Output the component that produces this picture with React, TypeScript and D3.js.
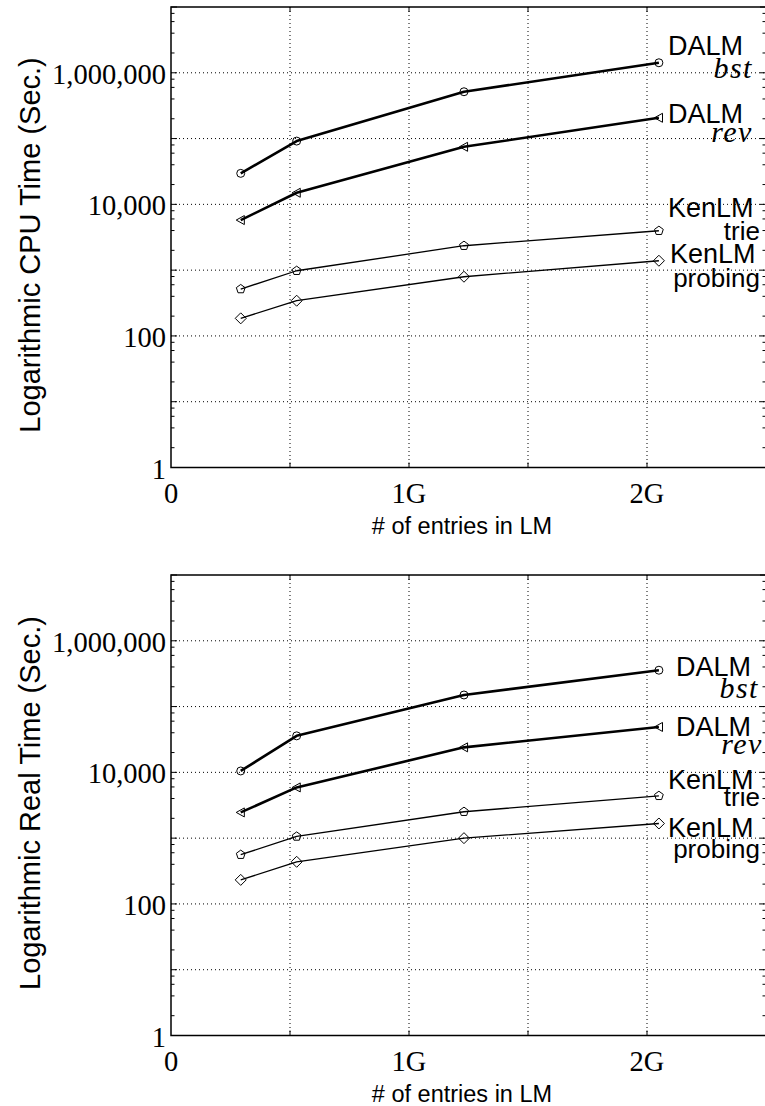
import React from "react";
import * as d3 from "d3";

// ---- data ----
const entries = [0.293e9, 0.528e9, 1.231e9, 2.05e9];
const cpuDalmBst = [29600, 91600, 515000, 1420000];
const cpuDalmRev = [5770, 15000, 75000, 207000];
const cpuKenTrie = [516, 979, 2350, 3970];
const cpuKenProbing = [185, 343, 794, 1390];
const realDalmBst = [10500, 35900, 150000, 357000];
const realDalmRev = [2460, 5900, 24000, 49000];
const realKenTrie = [560, 1060, 2520, 4400];
const realKenProbing = [232, 437, 1000, 1670];
const yTickValues = [1, 100, 10000, 1000000];
const yTickLabels = ["1", "100", "10,000", "1,000,000"];
const xTickValues = [0, 1e9, 2e9];
const xTickLabels = ["0", "1G", "2G"];
const seriesNames = ["DALM", "DALM", "KenLM", "KenLM"];
const seriesSubs = ["bst", "rev", "trie", "probing"];

type Marker = "circle" | "triangle" | "pentagon" | "diamond";
const markers: Marker[] = ["circle", "triangle", "pentagon", "diamond"];
const widths = [2.6, 2.6, 1.3, 1.3];

// label offsets relative to last point (layout)
const labelOffsetsTop = [
  { nx: 9, ny: -8, sx: 94, sy: 15 },
  { nx: 9, ny: 5, sx: 94, sy: 24 },
  { nx: 9, ny: -14, sx: 101, sy: 9 },
  { nx: 11, ny: 2, sx: 101, sy: 26 },
];
const labelOffsetsBottom = [
  { nx: 17, ny: 6, sx: 100, sy: 28 },
  { nx: 17, ny: 9, sx: 104, sy: 27 },
  { nx: 9, ny: -7, sx: 101, sy: 10 },
  { nx: 9, ny: 14, sx: 101, sy: 35 },
];

function markerPath(m: Marker): string {
  if (m === "circle") return d3.symbol(d3.symbolCircle, 50)()!;
  if (m === "triangle") {
    const r = 4.5;
    return `M${-r},0L${r * 0.8},${-r}L${r * 0.8},${r}Z`;
  }
  if (m === "pentagon") {
    const r = 4.6;
    const pts = d3.range(5).map((i) => {
      const a = -Math.PI / 2 + (i * 2 * Math.PI) / 5;
      return [r * Math.cos(a), r * Math.sin(a)];
    });
    return "M" + pts.map((p) => p.join(",")).join("L") + "Z";
  }
  const r = 5.5;
  return `M0,${-r}L${r},0L0,${r}L${-r},0Z`;
}

const X0 = 171;
const X1 = 766;

function Panel({
  top,
  bottom,
  data,
  title,
  offsets,
  titleY,
}: {
  top: number;
  bottom: number;
  data: number[][];
  title: string;
  offsets: { nx: number; ny: number; sx: number; sy: number }[];
  titleY: number;
}) {
  const x = d3.scaleLinear().domain([0, 2.5e9]).range([X0, X1]);
  const y = d3.scaleLog().domain([1, 1e7]).range([bottom, top]);
  const decades = d3.range(0, 8).map((k) => Math.pow(10, k));
  const minors: number[] = [];
  for (let k = 0; k < 7; k++) for (const m of [2, 4, 6, 8]) minors.push(m * Math.pow(10, k));
  const xGrid = d3.range(1, 6).map((i) => i * 0.5e9);
  const line = d3
    .line<[number, number]>()
    .x((d) => x(d[0]))
    .y((d) => y(d[1]));
  const serif = "'Liberation Serif', 'DejaVu Serif', serif";
  const sans = "'Liberation Sans', Arial, sans-serif";
  return (
    <g>
      {/* grid */}
      {decades.slice(1, 7).map((v) => (
        <line key={"hg" + v} x1={X0} x2={X1} y1={y(v)} y2={y(v)} stroke="#000" strokeWidth={1} strokeDasharray="1,3" />
      ))}
      {xGrid.map((v) => (
        <line key={"vg" + v} x1={x(v)} x2={x(v)} y1={top} y2={bottom} stroke="#000" strokeWidth={1} strokeDasharray="1,3" />
      ))}
      {/* ticks */}
      {decades.map((v) => (
        <g key={"mt" + v}>
          <line x1={X0} x2={X0 + 6} y1={y(v)} y2={y(v)} stroke="#000" />
          <line x1={X1 - 6} x2={X1} y1={y(v)} y2={y(v)} stroke="#000" />
        </g>
      ))}
      {minors.map((v) => (
        <g key={"nt" + v}>
          <line x1={X0} x2={X0 + 3.5} y1={y(v)} y2={y(v)} stroke="#000" />
          <line x1={X1 - 3.5} x2={X1} y1={y(v)} y2={y(v)} stroke="#000" />
        </g>
      ))}
      {xGrid.map((v) => (
        <g key={"xt" + v}>
          <line x1={x(v)} x2={x(v)} y1={bottom} y2={bottom - 5} stroke="#000" />
          <line x1={x(v)} x2={x(v)} y1={top} y2={top + 5} stroke="#000" />
        </g>
      ))}
      {/* frame */}
      <rect x={X0} y={top} width={X1 - X0} height={bottom - top} fill="none" stroke="#000" strokeWidth={1.5} />
      {/* tick labels */}
      {yTickValues.map((v, i) => (
        <text key={"yl" + v} x={166} y={y(v) + 11} textAnchor="end" fontFamily={serif} fontSize={28.5}>
          {yTickLabels[i]}
        </text>
      ))}
      {xTickValues.map((v, i) => (
        <text key={"xl" + v} x={x(v)} y={bottom + 35} textAnchor="middle" fontFamily={serif} fontSize={28.5}>
          {xTickLabels[i]}
        </text>
      ))}
      {/* titles */}
      <text
        transform={`translate(40,${titleY}) rotate(-90)`}
        textAnchor="middle"
        fontFamily={sans}
        fontSize={29}
      >
        {title}
      </text>
      <text x={462} y={bottom + 66} textAnchor="middle" fontFamily={sans} fontSize={23.5}>
        # of entries in LM
      </text>
      {/* series */}
      {data.map((vals, si) => {
        const pts: [number, number][] = entries.map((e, i) => [e, vals[i]]);
        const last = pts[pts.length - 1];
        const lx = x(last[0]);
        const ly = y(last[1]);
        const o = offsets[si];
        const isMath = si < 2;
        return (
          <g key={"s" + si}>
            <path d={line(pts)!} fill="none" stroke="#000" strokeWidth={widths[si]} strokeLinejoin="round" />
            {pts.map((p, i) => (
              <path
                key={i}
                d={markerPath(markers[si])}
                transform={`translate(${x(p[0])},${y(p[1])})`}
                fill="none"
                stroke="#000"
                strokeWidth={1}
              />
            ))}
            <text x={lx + o.nx} y={ly + o.ny} fontFamily={sans} fontSize={27}>
              {seriesNames[si]}
            </text>
            <text
              x={lx + o.sx}
              y={ly + o.sy}
              textAnchor="end"
              fontFamily={isMath ? serif : sans}
              fontStyle={isMath ? "italic" : "normal"}
              fontSize={isMath ? 30 : 26}
              letterSpacing={isMath ? 1.5 : 0}
            >
              {seriesSubs[si]}
            </text>
          </g>
        );
      })}
    </g>
  );
}

export default function App() {
  return (
    <svg
      width={765}
      height={1106}
      style={{ position: "absolute", left: 0, top: 0, background: "#fff" }}
    >
      <rect width={765} height={1106} fill="#fff" />
      <Panel
        top={7}
        bottom={467.5}
        data={[cpuDalmBst, cpuDalmRev, cpuKenTrie, cpuKenProbing]}
        title="Logarithmic CPU Time (Sec.)"
        offsets={labelOffsetsTop}
        titleY={245}
      />
      <Panel
        top={575}
        bottom={1035.5}
        data={[realDalmBst, realDalmRev, realKenTrie, realKenProbing]}
        title="Logarithmic Real Time (Sec.)"
        offsets={labelOffsetsBottom}
        titleY={803}
      />
    </svg>
  );
}
